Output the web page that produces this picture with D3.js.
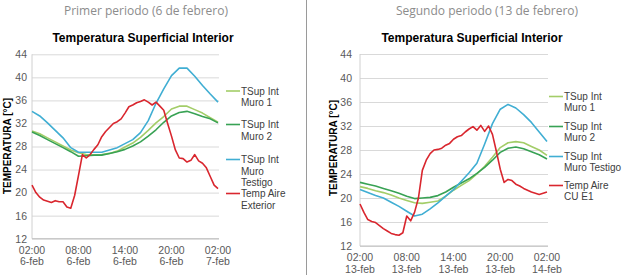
<!DOCTYPE html>
<html>
<head>
<meta charset="utf-8">
<script src="https://cdn.jsdelivr.net/npm/d3@7"></script>
<style>
  body { margin: 0; background: #fff; }
  svg { display: block; font-family: "Liberation Sans", Arial, sans-serif; }
</style>
</head>
<body>
<svg id="chart" width="624" height="275"></svg>
<script>
// Temperatura superficial interior — dos periodos de medición
const yTicks = [12, 16, 20, 24, 28, 32, 36, 40, 44];
const tickHours = [0, 6, 12, 18, 24];
const timeLabels = ["02:00", "08:00", "14:00", "20:00", "02:00"];
const datesFeb6 = ["6-feb", "6-feb", "6-feb", "6-feb", "7-feb"];
const datesFeb13 = ["13-feb", "13-feb", "13-feb", "13-feb", "14-feb"];

const colors = ["#a3cd68", "#38a254", "#40aed3", "#d9262e"];

const legendFeb6 = [["TSup Int", "Muro 1"], ["TSup Int", "Muro 2"], ["TSup Int", "Muro", "Testigo"], ["Temp Aire", "Exterior"]];
const legendFeb13 = [["TSup Int", "Muro 1"], ["TSup Int", "Muro 2"], ["TSup Int", "Muro Testigo"], ["Temp Aire", "CU E1"]];

// hourly readings from 02:00 (hour 0) to 02:00 next day (hour 24)
const hourly = d3.range(25);
const halfHourly = d3.range(49).map(i => i / 2);

// 6 de febrero
const muro1Feb6 = [30.7, 30.2, 29.5, 28.8, 28.1, 27.4, 26.9, 26.6, 26.5, 26.6, 26.8, 27.2, 27.9, 28.6, 29.6, 30.8, 32.1, 33.2, 34.5, 35.0, 35.0, 34.4, 33.8, 33.0, 32.2];
const muro2Feb6 = [30.5, 29.9, 29.2, 28.5, 27.8, 27.1, 26.3, 26.4, 26.5, 26.5, 26.8, 27.1, 27.5, 28.1, 28.8, 29.8, 30.9, 32.2, 33.3, 33.9, 34.1, 33.7, 33.2, 32.8, 32.1];
const testigoFeb6 = [34.1, 33.3, 32.1, 30.8, 29.5, 27.8, 27.0, 27.0, 27.0, 27.0, 27.4, 27.8, 28.5, 29.2, 30.4, 32.5, 35.5, 38.0, 40.3, 41.6, 41.6, 40.2, 38.6, 37.1, 35.7];
const aireFeb6 = [21.3, 20.0, 19.2, 18.7, 18.5, 18.3, 18.6, 18.4, 18.4, 17.5, 17.3, 19.5, 23.0, 26.6, 26.0, 26.6, 27.5, 28.3, 29.7, 30.6,
  31.3, 32.0, 32.3, 32.8, 33.8, 34.9, 35.2, 35.6, 35.8, 36.1, 35.7, 35.2, 35.7, 35.0, 34.3, 32.0, 29.8, 27.4, 26.0, 25.9,
  25.3, 25.6, 26.6, 25.5, 25.1, 24.3, 22.8, 21.3, 20.7];

// 13 de febrero
const muro1Feb13 = [21.9, 21.6, 21.2, 20.9, 20.5, 20.0, 19.6, 19.2, 19.1, 19.3, 19.5, 20.3, 21.3, 22.1, 22.9, 24.0, 25.3, 26.8, 28.4, 29.2, 29.4, 29.2, 28.6, 28.0, 27.1];
const muro2Feb13 = [22.6, 22.3, 22.0, 21.6, 21.2, 20.8, 20.3, 19.9, 20.0, 20.1, 20.4, 21.0, 21.8, 22.5, 23.2, 24.1, 25.1, 26.3, 27.6, 28.3, 28.5, 28.2, 27.7, 27.2, 26.5];
const testigoFeb13 = [21.4, 20.9, 20.4, 20.0, 19.3, 18.6, 17.8, 17.0, 17.3, 18.2, 19.2, 20.3, 21.4, 22.8, 24.2, 25.8, 29.0, 32.4, 34.8, 35.6, 35.0, 33.9, 32.6, 31.0, 29.4];
const aireFeb13 = [19.0, 17.6, 16.4, 16.1, 15.9, 15.4, 14.9, 14.5, 14.1, 13.9, 13.8, 14.2, 17.0, 16.2, 17.6, 20.0, 24.6, 26.3, 27.4, 28.0,
  28.1, 28.3, 28.8, 29.1, 29.8, 30.2, 30.4, 31.0, 31.5, 31.9, 31.3, 32.1, 31.1, 32.0, 30.6, 27.8, 24.8, 22.6, 23.1, 22.9,
  22.3, 22.0, 21.6, 21.3, 21.0, 20.8, 20.6, 20.8, 21.0];

const svg = d3.select("#chart");

function drawPanel(p) {
  const x = d3.scaleLinear().domain([0, 24]).range([p.x0, p.x1]);
  const y = d3.scaleLinear().domain([12, 44]).range([p.yBot, p.yTop]);

  svg.append("text")
    .attr("x", p.headerX).attr("y", 15)
    .attr("text-anchor", "middle")
    .style("font-family", "'Open Sans', sans-serif")
    .style("font-size", "12px")
    .attr("fill", "#8c8c8c")
    .text(p.header);

  svg.append("text")
    .attr("x", p.titleX).attr("y", 42)
    .attr("text-anchor", "middle")
    .style("font-size", "12px")
    .style("font-weight", "bold")
    .attr("fill", "#000")
    .text("Temperatura Superficial Interior");

  // gridlines + y labels
  const yAxis = svg.append("g")
    .attr("transform", `translate(${p.x0},0)`)
    .call(d3.axisLeft(y).tickValues(yTicks).tickSize(-(p.x1 - p.x0 + 1)).tickPadding(p.x0 - p.yLabelRight));
  yAxis.select(".domain").remove();
  yAxis.selectAll("line").attr("stroke", "#d9d9d9");
  yAxis.selectAll("text").attr("fill", "#595959").style("font-size", "10.5px").style("font-family", "'Liberation Sans', Arial, sans-serif");

  svg.append("line")
    .attr("x1", p.x0).attr("x2", p.x0)
    .attr("y1", p.yTop).attr("y2", p.yBot)
    .attr("stroke", "#d0d0d0");
  svg.append("line")
    .attr("x1", p.x0).attr("x2", p.x1 + 1)
    .attr("y1", p.yBot).attr("y2", p.yBot)
    .attr("stroke", "#bfbfbf");

  svg.append("text")
    .attr("transform", `translate(${p.yTitleX},${p.yTitleY}) rotate(-90)`)
    .attr("text-anchor", "middle")
    .attr("dy", "0.35em")
    .style("font-size", "10px")
    .style("font-weight", "bold")
    .attr("fill", "#000")
    .text("TEMPERATURA [°C]");

  // x labels, two lines
  tickHours.forEach((h, i) => {
    const t = svg.append("text")
      .attr("x", x(h))
      .attr("text-anchor", "middle")
      .style("font-size", "10.5px")
      .attr("fill", "#595959");
    t.append("tspan").attr("x", x(h)).attr("y", p.yBot + 15).text(timeLabels[i]);
    t.append("tspan").attr("x", x(h)).attr("y", p.yBot + 26.5).text(p.dates[i]);
  });

  const line = d3.line()
    .x(d => x(d[0]))
    .y(d => y(d[1]));

  p.series.forEach((s, i) => {
    svg.append("path")
      .datum(s.times.map((t, j) => [t, s.values[j]]))
      .attr("fill", "none")
      .attr("stroke", colors[i])
      .attr("stroke-width", 1.6)
      .attr("stroke-linejoin", "round")
      .attr("d", line);
  });

  // legend
  p.legend.forEach((rows, i) => {
    const ly = p.legendRows[i];
    svg.append("line")
      .attr("x1", p.legendX).attr("x2", p.legendX + 14)
      .attr("y1", ly).attr("y2", ly)
      .attr("stroke", colors[i])
      .attr("stroke-width", 1.6);
    rows.forEach((r, k) => {
      svg.append("text")
        .attr("x", p.legendX + 15)
        .attr("y", ly + k * p.lineH)
        .attr("dy", "0.35em")
        .style("font-size", "10px")
        .attr("fill", "#404040")
        .text(r);
    });
  });
}

drawPanel({
  header: "Primer periodo (6 de febrero)", headerX: 146, titleX: 143,
  x0: 32, x1: 218, yTop: 54.3, yBot: 238.7, yLabelRight: 27,
  yTitleX: 7, yTitleY: 146,
  legendX: 226, legendRows: [91, 124.5, 159.5, 193.5], lineH: 11.5,
  legend: legendFeb6, dates: datesFeb6,
  series: [
    { times: hourly, values: muro1Feb6 },
    { times: hourly, values: muro2Feb6 },
    { times: hourly, values: testigoFeb6 },
    { times: halfHourly, values: aireFeb6 }
  ]
});

drawPanel({
  header: "Segundo periodo (13 de febrero)", headerX: 487, titleX: 472,
  x0: 360, x1: 547, yTop: 54, yBot: 246, yLabelRight: 352,
  yTitleX: 333, yTitleY: 148,
  legendX: 549, legendRows: [96.5, 126.5, 156.5, 185.5], lineH: 11,
  legend: legendFeb13, dates: datesFeb13,
  series: [
    { times: hourly, values: muro1Feb13 },
    { times: hourly, values: muro2Feb13 },
    { times: hourly, values: testigoFeb13 },
    { times: halfHourly, values: aireFeb13 }
  ]
});

// divider between the two panels
svg.append("line")
  .attr("x1", 306.5).attr("x2", 306.5)
  .attr("y1", 0).attr("y2", 275)
  .attr("stroke", "#9a9a9a");
</script>
</body>
</html>
